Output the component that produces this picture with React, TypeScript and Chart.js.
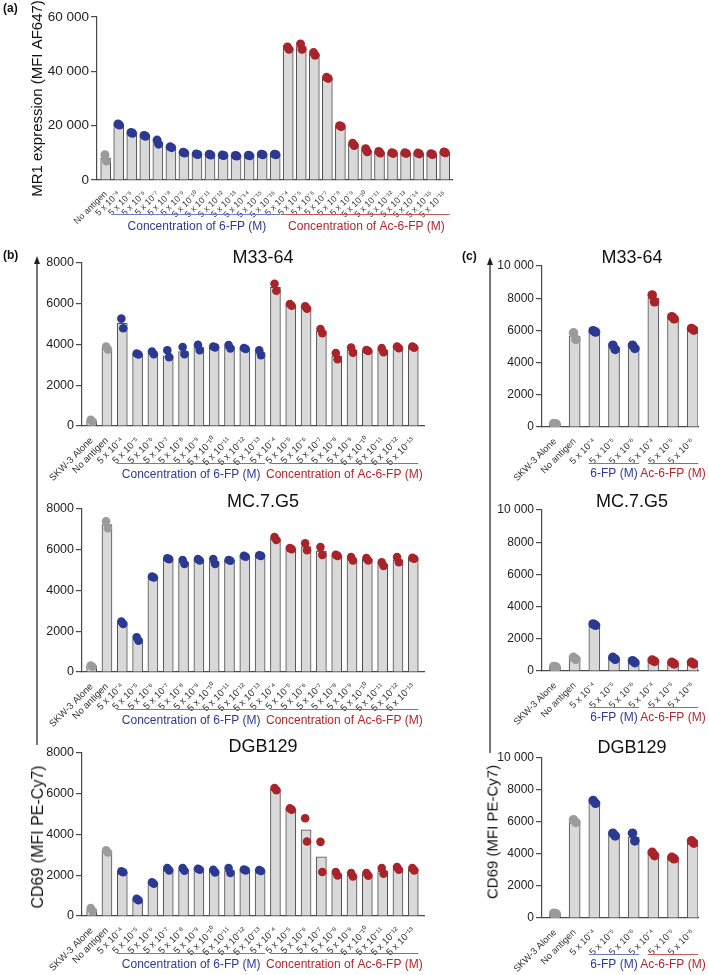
import React, { useEffect, useRef } from "react";
import { Chart, registerables } from "chart.js";
Chart.register(...registerables);

const FONT = "'Liberation Sans', Arial, Helvetica, sans-serif";

// ---------- tick labels ----------
const concA = ["5 x 10⁻⁴", "5 x 10⁻⁵", "5 x 10⁻⁶", "5 x 10⁻⁷", "5 x 10⁻⁸", "5 x 10⁻⁹", "5 x 10⁻¹⁰", "5 x 10⁻¹¹", "5 x 10⁻¹²", "5 x 10⁻¹³", "5 x 10⁻¹⁴", "5 x 10⁻¹⁵", "5 x 10⁻¹⁶"];
const concB = ["5 x 10⁻⁴", "5 x 10⁻⁵", "5 x 10⁻⁶", "5 x 10⁻⁷", "5 x 10⁻⁸", "5 x 10⁻⁹", "5 x 10⁻¹⁰", "5 x 10⁻¹¹", "5 x 10⁻¹²", "5 x 10⁻¹³"];
const concC = ["5 x 10⁻⁴", "5 x 10⁻⁵", "5 x 10⁻⁶"];
const controlsA = ["No antigen"];
const controlsBC = ["SKW-3 Alone", "No antigen"];

// ---------- panel (a): MR1 expression ----------
const aBars = [8100, 20400, 17350, 16250, 13950, 12050, 10050, 9500, 9350, 9100, 8900, 9000, 9400, 9400, 48550, 49100, 46400, 37600, 19850, 13100, 10950, 10200, 9900, 9900, 9750, 9550, 10150];
const aRep1 = [9300, 20600, 17500, 16400, 14700, 12200, 10200, 9600, 9500, 9200, 9000, 9100, 9500, 9500, 49000, 50100, 46900, 37800, 20000, 13500, 11500, 10500, 10000, 10000, 9900, 9700, 10300];
const aRep2 = [7000, 20200, 17200, 16100, 13200, 11900, 9900, 9400, 9200, 9000, 8800, 8900, 9300, 9300, 48100, 48100, 45900, 37400, 19700, 12700, 10400, 9900, 9800, 9800, 9600, 9400, 10000];

// ---------- panel (b): CD69, titration ----------
const bM33Bars = [260, 3830, 5040, 3530, 3590, 3450, 3650, 3850, 3880, 3890, 3800, 3600, 6810, 5940, 5820, 4660, 3430, 3720, 3700, 3720, 3860, 3870];
const bM33Rep1 = [300, 3900, 5270, 3560, 3660, 3720, 3880, 3980, 3900, 3970, 3830, 3720, 6980, 5990, 5880, 4760, 3580, 3850, 3730, 3820, 3900, 3900];
const bM33Rep2 = [220, 3760, 4800, 3510, 3520, 3380, 3520, 3720, 3860, 3810, 3780, 3480, 6640, 5900, 5760, 4560, 3280, 3600, 3680, 3620, 3820, 3840];

const bMCBars = [290, 7230, 2420, 1620, 4660, 5560, 5400, 5500, 5420, 5480, 5680, 5710, 6550, 6050, 6150, 5940, 5720, 5550, 5530, 5300, 5510, 5580];
const bMCRep1 = [320, 7400, 2480, 1700, 4680, 5580, 5500, 5540, 5540, 5500, 5700, 5730, 6620, 6080, 6320, 6130, 5750, 5640, 5590, 5390, 5640, 5600];
const bMCRep2 = [260, 7060, 2360, 1540, 4640, 5540, 5300, 5470, 5300, 5460, 5660, 5700, 6480, 6030, 5980, 5750, 5700, 5470, 5470, 5210, 5390, 5560];

const bDGBBars = [320, 3170, 2170, 800, 1620, 2290, 2280, 2290, 2200, 2230, 2260, 2230, 6220, 5250, 4230, 2900, 2070, 2020, 2040, 2210, 2330, 2290];
const bDGBRep1 = [390, 3220, 2200, 840, 1660, 2350, 2350, 2320, 2270, 2350, 2280, 2250, 6280, 5280, 4800, 3640, 2160, 2110, 2110, 2350, 2400, 2350];
const bDGBRep2 = [240, 3120, 2150, 770, 1580, 2240, 2220, 2270, 2140, 2110, 2240, 2210, 6170, 5220, 3660, 2160, 1990, 1940, 1980, 2080, 2270, 2240];

// ---------- panel (c): CD69, high concentrations ----------
const cM33Bars = [200, 5650, 5940, 4950, 4980, 7990, 6780, 6070];
const cM33Rep1 = [220, 5850, 5980, 5080, 5080, 8200, 6850, 6120];
const cM33Rep2 = [180, 5440, 5900, 4820, 4880, 7780, 6720, 6020];

const cMCBars = [260, 790, 2880, 790, 580, 640, 490, 490];
const cMCRep1 = [280, 850, 2920, 850, 640, 680, 540, 540];
const cMCRep2 = [240, 730, 2840, 730, 520, 600, 440, 440];

const cDGBBars = [280, 6050, 7250, 5220, 5060, 4000, 3740, 4750];
const cDGBRep1 = [300, 6130, 7340, 5300, 5300, 4100, 3790, 4820];
const cDGBRep2 = [260, 5970, 7170, 5130, 4820, 3900, 3700, 4680];

// ---------- styles ----------
const BAR_FILL = "#d9d9d9";
const BAR_EDGE = "#4d4d4d";
const AXIS = "#4a4a4a";
const GRAY = "#9b9b9b";
const BLUE = "#2c3990";
const RED = "#a8232a";
const BLUE_TEXT = "#2d3a94";
const RED_TEXT = "#b3262c";
const BLUE_LINE = "#6b79c9";
const RED_LINE = "#c55757";

type Area = { left: number; top: number; right: number; bottom: number };
type Spec = {
  key: string;
  left: number; top: number; width: number; height: number;
  area: Area;
  labels: string[];
  nControls: number; nPerGroup: number;
  bars: number[]; rep1: number[]; rep2: number[];
  xMin: number; xMax: number;
  yMax: number; yStep: number;
  yTickSize: number; xTickSize: number;
  barThickness: number; pointRadius: number;
  title?: string; titleX?: number; titleBase?: number;
  yTitle?: string; yTitleX?: number;
  groupText: [string, string];
  lineOffset: number; textOffset: number;
};

const fmt = (v: number) => {
  if (v >= 10000) {
    const s = String(v);
    return s.slice(0, s.length - 3) + " " + s.slice(s.length - 3);
  }
  return String(v);
};

const annotPlugin = {
  id: "annot",
  afterDraw(chart: any, _args: any, opts: any) {
    const { ctx, chartArea, scales } = chart;
    const xs = scales.x;
    ctx.save();
    for (const g of opts.groups || []) {
      const x0 = xs.getPixelForValue(g.from) - opts.halfBar;
      const x1 = xs.getPixelForValue(g.to) + opts.halfBar;
      const ly = Math.round(chartArea.bottom + opts.lineOffset) + 0.5;
      ctx.strokeStyle = g.lineColor;
      ctx.lineWidth = 1;
      ctx.beginPath();
      ctx.moveTo(x0, ly);
      ctx.lineTo(x1, ly);
      ctx.stroke();
      ctx.fillStyle = g.textColor;
      ctx.font = `12px ${FONT}`;
      ctx.textAlign = "center";
      ctx.textBaseline = "middle";
      ctx.fillText(g.text, (x0 + x1) / 2, chartArea.bottom + opts.textOffset);
    }
    if (opts.title) {
      ctx.fillStyle = "#111";
      ctx.font = `18px ${FONT}`;
      ctx.textAlign = "center";
      ctx.textBaseline = "alphabetic";
      ctx.fillText(opts.title, opts.titleX, opts.titleY);
    }
    ctx.restore();
  },
};

function buildConfig(s: Spec): any {
  const n = s.labels.length;
  const cats: number[] = s.labels.map((_, i) =>
    i < s.nControls ? 0 : i < s.nControls + s.nPerGroup ? 1 : 2
  );
  const colorOf = (c: number) => (c === 0 ? GRAY : c === 1 ? BLUE : RED);
  const pointColors = cats.map(colorOf);
  const yWidth = s.area.left - s.left;
  const xHeight = s.top + s.height - s.area.bottom;
  const jit = 0.06;
  const groups = [
    { from: s.nControls, to: s.nControls + s.nPerGroup - 1, text: s.groupText[0], textColor: BLUE_TEXT, lineColor: BLUE_LINE },
    { from: s.nControls + s.nPerGroup, to: n - 1, text: s.groupText[1], textColor: RED_TEXT, lineColor: RED_LINE },
  ];
  return {
    type: "bar",
    data: {
      datasets: [
        {
          type: "scatter",
          data: s.rep1.map((v, i) => ({ x: i - jit, y: v })),
          pointRadius: s.pointRadius,
          pointBackgroundColor: pointColors,
          pointBorderWidth: 0,
          pointBorderColor: pointColors,
          order: 0,
        },
        {
          type: "scatter",
          data: s.rep2.map((v, i) => ({ x: i + jit, y: v })),
          pointRadius: s.pointRadius,
          pointBackgroundColor: pointColors,
          pointBorderWidth: 0,
          pointBorderColor: pointColors,
          order: 0,
        },
        {
          type: "bar",
          data: s.bars.map((v, i) => ({ x: i, y: v })),
          backgroundColor: BAR_FILL,
          borderColor: BAR_EDGE,
          borderWidth: 1,
          barThickness: s.barThickness,
          order: 1,
        },
      ],
    },
    options: {
      responsive: false,
      animation: false,
      devicePixelRatio: 1,
      layout: {
        padding: {
          left: 0,
          top: s.area.top - s.top,
          right: s.left + s.width - s.area.right,
          bottom: 0,
        },
      },
      plugins: {
        legend: { display: false },
        tooltip: { enabled: false },
        title: { display: false },
        annot: {
          groups,
          halfBar: s.barThickness / 2,
          lineOffset: s.lineOffset,
          textOffset: s.textOffset,
          title: s.title,
          titleX: (s.titleX ?? 0) - s.left,
          titleY: (s.titleBase ?? 0) - s.top,
        },
      },
      scales: {
        x: {
          type: "linear",
          min: s.xMin,
          max: s.xMax,
          offset: false,
          grid: { display: false, offset: false },
          border: { display: true, color: AXIS, width: 1.2 },
          ticks: {
            autoSkip: false,
            minRotation: 45,
            maxRotation: 45,
            padding: 1,
            color: "#333",
            font: { family: FONT, size: s.xTickSize },
            callback: (v: number) => s.labels[Math.round(v)] ?? "",
          },
          afterBuildTicks: (sc: any) => {
            sc.ticks = s.labels.map((_, i) => ({ value: i }));
          },
          afterFit: (sc: any) => {
            sc.height = xHeight;
          },
        },
        y: {
          type: "linear",
          min: 0,
          max: s.yMax,
          grid: { drawOnChartArea: false, drawTicks: true, tickLength: 6, color: AXIS, lineWidth: 1.2 },
          border: { display: true, color: AXIS, width: 1.2 },
          ticks: {
            stepSize: s.yStep,
            padding: 2,
            color: "#222",
            font: { family: FONT, size: s.yTickSize },
            callback: (v: number) => fmt(v),
          },
          title: s.yTitle
            ? {
                display: true,
                text: s.yTitle,
                color: "#111",
                font: { family: FONT, size: 15, lineHeight: 1.2 },
                padding: { top: (s.yTitleX ?? 0) - s.left - 9, bottom: 0 },
              }
            : { display: false },
          afterFit: (sc: any) => {
            sc.width = yWidth;
          },
        },
      },
    },
    plugins: [annotPlugin],
  };
}

const labelsA = [...controlsA, ...concA, ...concA];
const labelsB = [...controlsBC, ...concB, ...concB];
const labelsC = [...controlsBC, ...concC, ...concC];

const bCommon = {
  left: 44, width: 396,
  labels: labelsB, nControls: 2, nPerGroup: 10,
  xMin: -0.63, xMax: 21.7, yMax: 8000, yStep: 2000,
  yTickSize: 12.5, xTickSize: 9.6, barThickness: 10, pointRadius: 4.3,
  titleX: 263,
  groupText: ["Concentration of 6-FP (M)", "Concentration of Ac-6-FP (M)"] as [string, string],
  lineOffset: 36.5, textOffset: 49,
};
const cCommon = {
  left: 494, width: 215,
  labels: labelsC, nControls: 2, nPerGroup: 3,
  xMin: -0.66, xMax: 7.27, yMax: 10000, yStep: 2000,
  yTickSize: 12, xTickSize: 9.4, barThickness: 11, pointRadius: 4.8,
  titleX: 632,
  groupText: ["6-FP (M)", "Ac-6-FP (M)"] as [string, string],
  lineOffset: 35.5, textOffset: 46.5,
};

const specs: Spec[] = [
  {
    key: "a", left: 0, top: 0, width: 470, height: 242,
    area: { left: 97, top: 17, right: 452, bottom: 180 },
    labels: labelsA, nControls: 1, nPerGroup: 13,
    bars: aBars, rep1: aRep1, rep2: aRep2,
    xMin: -0.667, xMax: 26.56, yMax: 60000, yStep: 20000,
    yTickSize: 13.5, xTickSize: 8.8, barThickness: 10, pointRadius: 4.5,
    yTitle: "MR1 expression (MFI AF647)", yTitleX: 38,
    groupText: ["Concentration of 6-FP (M)", "Concentration of Ac-6-FP (M)"],
    lineOffset: 34, textOffset: 47,
  },
  { ...bCommon, key: "bM", top: 240, height: 248, area: { left: 82, top: 263, right: 424, bottom: 426 }, bars: bM33Bars, rep1: bM33Rep1, rep2: bM33Rep2, title: "M33-64", titleBase: 263 },
  { ...bCommon, key: "bC", top: 486, height: 248, area: { left: 82, top: 509, right: 424, bottom: 672 }, bars: bMCBars, rep1: bMCRep1, rep2: bMCRep2, title: "MC.7.G5", titleBase: 507 },
  { ...bCommon, key: "bD", top: 730, height: 245, area: { left: 82, top: 753, right: 424, bottom: 916 }, bars: bDGBBars, rep1: bDGBRep1, rep2: bDGBRep2, title: "DGB129", titleBase: 752 },
  { ...cCommon, key: "cM", top: 240, height: 248, area: { left: 542, top: 266, right: 698, bottom: 427 }, bars: cM33Bars, rep1: cM33Rep1, rep2: cM33Rep2, title: "M33-64", titleBase: 263 },
  { ...cCommon, key: "cC", top: 486, height: 248, area: { left: 542, top: 510, right: 698, bottom: 671 }, bars: cMCBars, rep1: cMCRep1, rep2: cMCRep2, title: "MC.7.G5", titleBase: 507 },
  { ...cCommon, key: "cD", top: 730, height: 245, area: { left: 542, top: 758, right: 698, bottom: 918 }, bars: cDGBBars, rep1: cDGBRep1, rep2: cDGBRep2, title: "DGB129", titleBase: 753 },
];

function Panel({ spec }: { spec: Spec }) {
  const ref = useRef<HTMLCanvasElement | null>(null);
  useEffect(() => {
    if (!ref.current) return;
    const chart = new Chart(ref.current, buildConfig(spec));
    return () => chart.destroy();
  }, [spec]);
  return (
    <canvas
      ref={ref}
      width={spec.width}
      height={spec.height}
      style={{ position: "absolute", left: spec.left, top: spec.top, width: spec.width, height: spec.height }}
    />
  );
}

const letterStyle = (left: number, top: number): React.CSSProperties => ({
  position: "absolute", left, top, fontFamily: FONT, fontWeight: "bold", fontSize: 12, lineHeight: "14px", color: "#111",
});

function ArrowAxis({ x, top, bottom }: { x: number; top: number; bottom: number }) {
  return (
    <>
      <div style={{ position: "absolute", left: x - 0.7, top: top + 5, width: 1.4, height: bottom - top - 5, background: "#777" }} />
      <div
        style={{
          position: "absolute", left: x - 3.5, top: top - 2, width: 0, height: 0,
          borderLeft: "3.5px solid transparent", borderRight: "3.5px solid transparent", borderBottom: "8px solid #222",
        }}
      />
    </>
  );
}

function VText({ cx, cy, size, text }: { cx: number; cy: number; size: number; text: string }) {
  return (
    <div
      style={{
        position: "absolute", left: cx, top: cy, transform: "translate(-50%, -50%) rotate(-90deg)",
        whiteSpace: "nowrap", fontFamily: FONT, fontSize: size, lineHeight: 1, color: "#111",
      }}
    >
      {text}
    </div>
  );
}

export default function App() {
  return (
    <div style={{ position: "absolute", left: 0, top: 0, width: 709, height: 975, background: "#fff", overflow: "hidden" }}>
      {specs.map((s) => (
        <Panel key={s.key} spec={s} />
      ))}
      <div style={letterStyle(3, 1)}>(a)</div>
      <div style={letterStyle(3, 248)}>(b)</div>
      <div style={letterStyle(462, 249)}>(c)</div>
      <ArrowAxis x={37} top={258} bottom={745} />
      <ArrowAxis x={490} top={259} bottom={753} />
      <VText cx={38} cy={837} size={16} text="CD69 (MFI PE-Cy7)" />
      <VText cx={492} cy={832} size={15} text="CD69 (MFI PE-Cy7)" />
    </div>
  );
}
